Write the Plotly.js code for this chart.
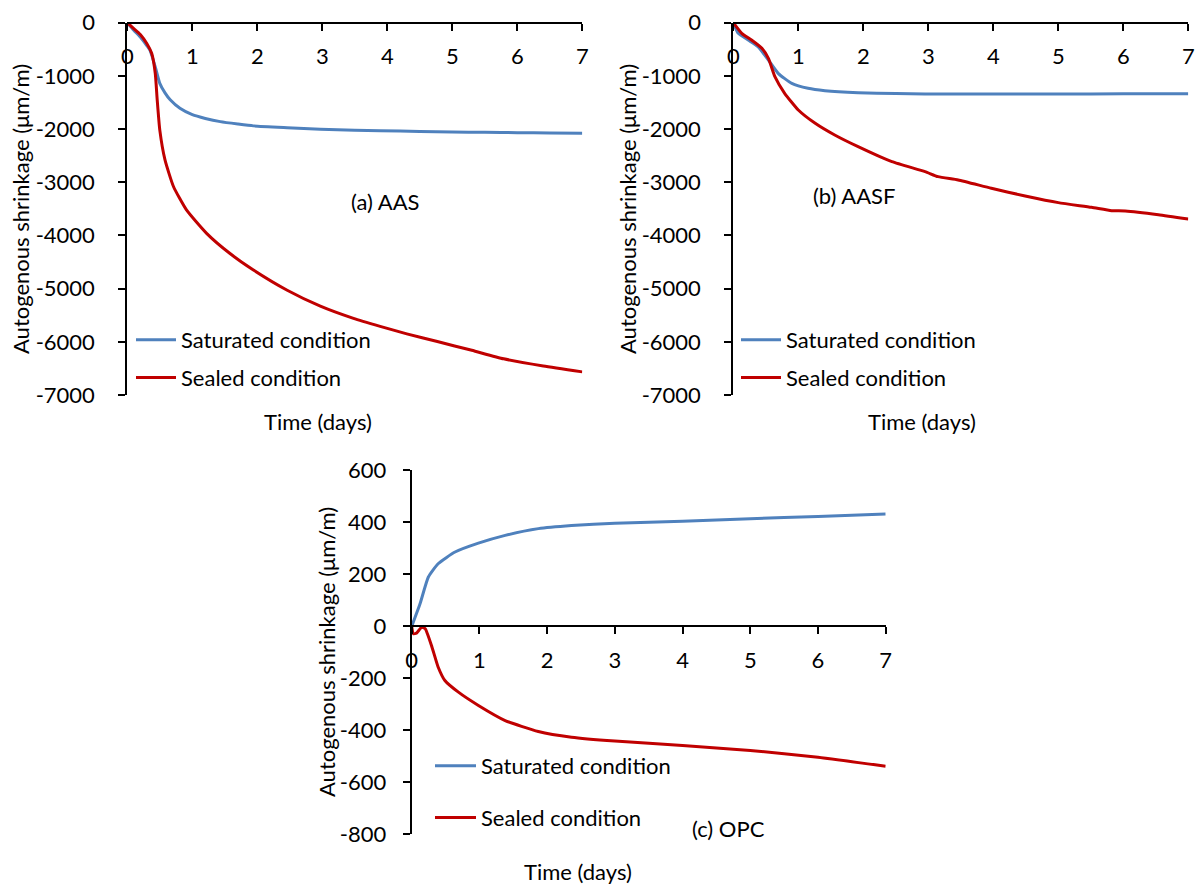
<!DOCTYPE html>
<html>
<head>
<meta charset="utf-8">
<script src="https://cdn.plot.ly/plotly-3.0.1.min.js"></script>
<style>html,body{margin:0;padding:0;background:#fff;}#chart{width:1196px;height:884px;}</style>
</head>
<body>
<div id="chart"></div>
<script>
// ---- Data ----
const seriesNames = ["Saturated condition", "Sealed condition"];
const panelLabels = ["(a) AAS", "(b) AASF", "(c) OPC"];
const xTitle = "Time (days)";
const yTitle = "Autogenous shrinkage (μm/m)";
const xTicks = [0, 1, 2, 3, 4, 5, 6, 7];
const yTicksAB = [0, -1000, -2000, -3000, -4000, -5000, -6000, -7000];
const yTicksC = [600, 400, 200, 0, -200, -400, -600, -800];

// (a) AAS
const aasSatDays = [0,0.1,0.2,0.3,0.35,0.43,0.5,0.58,0.66,0.81,1.0,1.2,1.43,1.7,1.94,2.46,2.97,3.5,3.89,4.5,5,5.5,6,6.5,7];
const aasSatVals = [0,-140,-270,-430,-520,-830,-1140,-1320,-1450,-1610,-1730,-1800,-1860,-1905,-1940,-1975,-2005,-2022,-2032,-2045,-2055,-2062,-2068,-2074,-2078];
const aasSealDays = [0,0.1,0.2,0.3,0.375,0.43,0.46,0.5,0.58,0.71,0.91,1.22,1.58,1.94,2.46,2.97,3.48,3.89,4.3,4.77,5.3,5.79,6.4,7];
const aasSealVals = [0,-110,-220,-390,-575,-950,-1450,-2020,-2580,-3080,-3520,-3960,-4340,-4650,-5030,-5330,-5560,-5710,-5850,-5995,-6160,-6320,-6455,-6565];

// (b) AASF
const aasfSatDays = [0,0.077,0.23,0.38,0.54,0.69,0.9,1.15,1.41,1.92,2.5,2.95,3.5,4,5,6,7];
const aasfSatVals = [0,-200,-326,-451,-702,-952,-1140,-1234,-1278,-1316,-1333,-1341,-1342,-1342,-1341,-1338,-1335];
const aasfSealDays = [0,0.13,0.28,0.44,0.54,0.64,0.79,1.0,1.26,1.56,1.92,2.44,2.95,3.15,3.46,3.97,4.49,5.0,5.51,5.82,6.03,6.54,7];
const aasfSealVals = [0,-200,-326,-482,-670,-1015,-1328,-1642,-1892,-2112,-2331,-2613,-2800,-2895,-2957,-3114,-3258,-3383,-3471,-3534,-3540,-3609,-3690];

// (c) OPC
const opcSatDays = [0,0.123,0.246,0.39,0.64,0.985,1.38,1.87,2.36,3,4,5,6,7];
const opcSatVals = [0,87,190,241,286,320,350,376,388,397,404,414,423,432];
const opcSealDays = [0,0.025,0.07,0.148,0.2,0.3,0.39,0.49,0.69,0.985,1.38,1.87,2.36,3,4,5,6,7];
const opcSealVals = [0,-28,-26,-3,-9,-80,-156,-208,-253,-304,-362,-404,-426,-441,-458,-477,-503,-538];

// ---- Layout helpers ----
const W = 1196, H = 884;
const fx = p => p / W;
const fy = p => 1 - p / H;
const FONT = "Lato, 'Open Sans', sans-serif";
const FS = 22;
const BLUE = "#4F81BD";
const RED = "#C00000";

function line(x, y, name, color, xa, ya, leg, grp) {
  return {
    type: "scatter", mode: "lines", x: x, y: y, name: name,
    xaxis: xa, yaxis: ya, legend: leg, legendgroup: grp,
    line: {color: color, width: 3, shape: "spline", smoothing: 0.5},
    hoverinfo: "skip"
  };
}

const data = [
  line(aasSatDays, aasSatVals, seriesNames[0], BLUE, "x", "y", "legend", "a1"),
  line(aasSealDays, aasSealVals, seriesNames[1], RED, "x", "y", "legend", "a2"),
  line(aasfSatDays, aasfSatVals, seriesNames[0], BLUE, "x2", "y2", "legend2", "b1"),
  line(aasfSealDays, aasfSealVals, seriesNames[1], RED, "x2", "y2", "legend2", "b2"),
  line(opcSatDays, opcSatVals, seriesNames[0], BLUE, "x3", "y3", "legend3", "c1"),
  line(opcSealDays, opcSealVals, seriesNames[1], RED, "x3", "y3", "legend3", "c2")
];

const tickFont = {family: FONT, size: FS, color: "#000"};

function xAxis(x0, x1, pos) {
  return {
    domain: [fx(x0), fx(x1)], range: [0, 7],
    tickmode: "array", tickvals: xTicks, ticktext: xTicks.map(String),
    anchor: "free", position: pos, side: "bottom",
    showline: true, linecolor: "#000", linewidth: 2,
    ticks: "outside", ticklen: 7, tickwidth: 2, tickcolor: "#000",
    ticklabelstandoff: 7,
    showgrid: false, zeroline: false, tickfont: tickFont, fixedrange: true
  };
}
function yAxis(y0, y1, range, ticks, xa, standoff) {
  return {
    domain: [fy(y1), fy(y0)], range: range,
    tickmode: "array", tickvals: ticks, ticktext: ticks.map(String),
    anchor: xa, showline: true, linecolor: "#000", linewidth: 2,
    ticks: "outside", ticklen: 7, tickwidth: 2, tickcolor: "#000",
    ticklabelstandoff: standoff,
    showgrid: false, zeroline: false, tickfont: tickFont, fixedrange: true
  };
}

function legendAt(xp, yp, gap, iw) {
  return {
    x: fx(xp), y: fy(yp), xanchor: "left", yanchor: "top",
    bgcolor: "rgba(0,0,0,0)", borderwidth: 0,
    font: {family: FONT, size: FS, color: "#000"},
    tracegroupgap: gap, traceorder: "grouped", itemwidth: iw
  };
}

function ann(text, xp, yp, angle) {
  return {
    text: text, xref: "paper", yref: "paper", x: fx(xp), y: fy(yp),
    xanchor: "center", yanchor: "middle", showarrow: false,
    textangle: angle || 0,
    font: {family: FONT, size: FS, color: "#000"}
  };
}

const layout = {
  width: W, height: H,
  margin: {l: 0, r: 0, t: 0, b: 0},
  paper_bgcolor: "#fff", plot_bgcolor: "rgba(0,0,0,0)",
  font: {family: FONT, size: FS, color: "#000"},
  showlegend: true,
  xaxis: xAxis(127.3, 582.3, fy(22.7)),
  yaxis: yAxis(22.7, 395, [-7000, 0], yTicksAB, "x", 19),
  xaxis2: xAxis(733.3, 1188.3, fy(22.7)),
  yaxis2: yAxis(22.7, 395, [-7000, 0], yTicksAB, "x2", 19),
  xaxis3: xAxis(411.7, 885.7, fy(626.4)),
  yaxis3: yAxis(470.4, 834.4, [-800, 600], yTicksC, "x3", 12),
  legend: legendAt(131, 319, 6, 40),
  legend2: legendAt(736, 319, 6, 40),
  legend3: legendAt(430, 745, 20, 41),
  annotations: [
    ann(panelLabels[0], 385, 202),
    ann(panelLabels[1], 854, 195),
    ann(panelLabels[2], 728, 828),
    ann(xTitle, 318, 421),
    ann(xTitle, 922, 421),
    ann(xTitle, 578, 871),
    ann(yTitle, 20, 209, -90),
    ann(yTitle, 627, 209, -90),
    ann(yTitle, 326, 652, -90)
  ]
};

Plotly.newPlot("chart", data, layout, {displayModeBar: false, staticPlot: true});
</script>
</body>
</html>
